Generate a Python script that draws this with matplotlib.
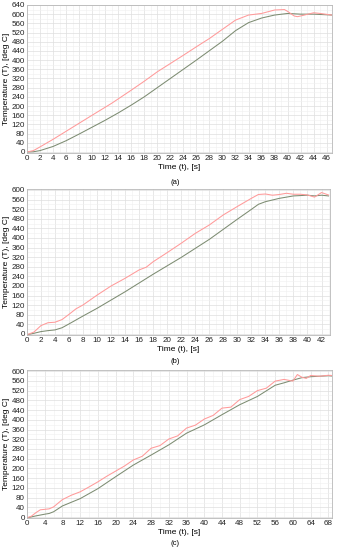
import matplotlib
matplotlib.use("Agg")
import matplotlib.pyplot as plt
from matplotlib.ticker import MultipleLocator

plt.rcParams['font.family'] = ['Liberation Sans', 'DejaVu Sans']

# (a)
t_a_red = [0, 1, 2, 4, 6, 8, 10, 13, 16, 18, 20, 22, 24, 26, 28, 30, 32, 34, 36, 38, 39.5, 40, 41, 41.5, 42, 43, 44, 45, 46.8]
T_a_red = [0, 6, 22, 55, 90, 125, 160, 212, 269, 308, 349, 385, 421, 458, 494, 534, 574, 596, 603, 618, 620, 612, 592, 589, 592, 599, 606, 603, 596]
t_a_grn = [0, 1, 2, 4, 6, 8, 10, 12, 14, 16, 18, 20, 22, 26, 30, 32, 34, 36, 38, 40, 42, 44, 46.8]
T_a_grn = [0, 1, 6, 24, 49, 78, 108, 138, 170, 204, 240, 280, 320, 400, 482, 528, 563, 583, 596, 603, 600, 600, 596]

# (b)
t_b_red = [0, 1, 2, 3, 4, 5, 6, 7, 8, 10, 12, 14, 16, 17, 18, 20, 22, 24, 26, 28, 30, 32, 33, 34, 35, 36, 37, 38, 39, 40, 41, 42, 43]
T_b_red = [-3, 8, 35, 47, 49, 60, 82, 105, 121, 162, 200, 232, 267, 278, 301, 339, 378, 419, 454, 496, 531, 565, 581, 583, 578, 581, 586, 582, 582, 579, 570, 589, 579]
t_b_grn = [0, 1, 2, 3, 4, 5, 6, 8, 10, 14, 18, 22, 26, 30, 32, 33, 34, 36, 38, 40, 41, 42, 43]
T_b_grn = [-3, 3, 10, 14, 17, 26, 42, 75, 107, 176, 249, 319, 394, 478, 519, 540, 551, 565, 575, 578, 575, 578, 575]

# (c)
t_c_red = [0, 1, 2, 3, 4, 5, 6, 8, 10, 12, 14, 16, 18, 20, 22, 24, 26, 28, 30, 32, 34, 35, 36, 38, 40, 42, 44, 46, 48, 50, 52, 54, 56, 58, 60, 61, 62, 63, 64, 66, 68, 68.8]
T_c_red = [-3, 4, 18, 30, 32, 34, 42, 72, 90, 104, 124, 145, 168, 189, 210, 235, 250, 283, 294, 321, 334, 350, 366, 378, 403, 418, 448, 452, 483, 496, 520, 530, 559, 566, 559, 586, 575, 570, 582, 579, 583, 582]
t_c_grn = [0, 2, 4, 5, 6, 8, 12, 16, 20, 24, 28, 32, 36, 40, 44, 48, 52, 56, 58, 60, 62, 64, 66, 68, 68.8]
T_c_grn = [-3, 5, 12, 15, 22, 46, 76, 117, 166, 214, 255, 297, 345, 379, 421, 462, 496, 542, 552, 563, 573, 577, 579, 581, 580]

RED = '#ff9a9a'
GRN = '#7d8c72'

panels = [
    ([0.080, 0.722, 0.905, 0.269], t_a_red, T_a_red, t_a_grn, T_a_grn, (0, 46.8), 2, (-4, 640), 0.669, '(a)'),
    ([0.080, 0.391, 0.899, 0.265], t_b_red, T_b_red, t_b_grn, T_b_grn, (0, 43.2), 2, (-4, 603), 0.343, '(b)'),
    ([0.080, 0.058, 0.905, 0.269], t_c_red, T_c_red, t_c_grn, T_c_grn, (0, 68.8), 4, (-4, 604), 0.012, '(c)'),
]

fig = plt.figure(figsize=(3.37, 5.5), dpi=100)

for rect, tr, Tr, tg, Tg, xlim, xstep, ylim, caption_y, caption in panels:
    ax = fig.add_axes(rect)
    ax.plot(tg, Tg, color=GRN, lw=0.75)
    ax.plot(tr, Tr, color=RED, lw=0.75)
    ax.set_xlim(*xlim)
    ax.set_ylim(*ylim)
    ax.xaxis.set_major_locator(MultipleLocator(xstep))
    ax.xaxis.set_minor_locator(MultipleLocator(xstep / 2))
    ax.yaxis.set_major_locator(MultipleLocator(40))
    ax.yaxis.set_minor_locator(MultipleLocator(20))
    ax.grid(which='major', color='#dedede', lw=0.5)
    ax.grid(which='minor', color='#f0f0f0', lw=0.4)
    ax.set_axisbelow(True)
    for s in ax.spines.values():
        s.set_color('#b8b8b8')
        s.set_linewidth(0.6)
    ax.tick_params(which='both', length=0, labelsize=5.8, pad=1.5, colors='#222222')
    ax.set_xlabel('Time (t), [s]', fontsize=6, labelpad=1.5)
    ax.set_ylabel('Temperature (T), [deg C]', fontsize=6, labelpad=1)
    fig.text(0.52, caption_y, caption, fontsize=5.5, ha='center', va='center')

fig.savefig('out.png', dpi=100)
